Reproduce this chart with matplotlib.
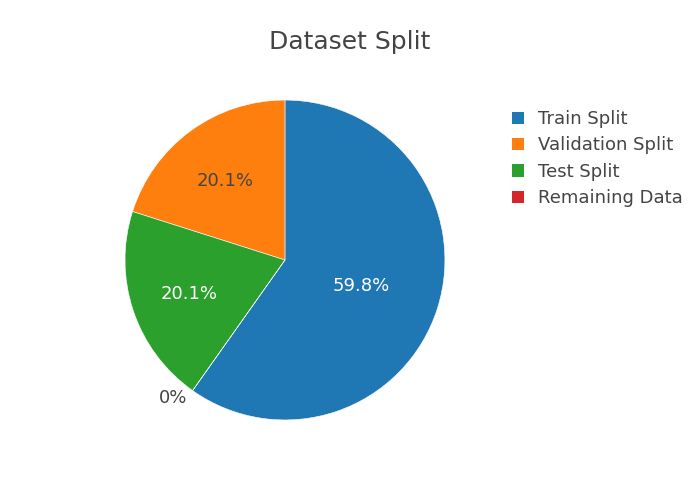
import numpy as np
import matplotlib.pyplot as plt
from matplotlib.patches import Patch

# data
labels = ['Train Split', 'Validation Split', 'Test Split', 'Remaining Data']
values = [59.8, 20.1, 20.1, 0.0]
colors = ['#1f77b4', '#ff7f0e', '#2ca02c', '#d62728']
pct_text_colors = ['white', '#444444', 'white', '#444444']

plt.rcParams['font.family'] = ['DejaVu Sans']

fig = plt.figure(figsize=(7, 5), dpi=100)
ax = fig.add_axes([0.1786, 0.16, 0.457, 0.64])

total = sum(values)
# first slice ends at 12 o'clock, slices run counter-clockwise after it
start = 90 - 360 * values[0] / total

wedges, _ = ax.pie(values, colors=colors, startangle=start, counterclock=True,
                   radius=1.0, wedgeprops=dict(linewidth=0.4, edgecolor='white'))

# percent labels placed at each wedge's mid angle
for i, w in enumerate(wedges):
    pct = 100 * values[i] / total
    txt = '%.1f%%' % pct if pct > 0 else '0%'
    mid = np.deg2rad((w.theta1 + w.theta2) / 2)
    if pct == 0:
        # empty slice: label sits just outside the rim
        ax.text(1.06 * np.cos(mid), 1.06 * np.sin(mid), txt, ha='right', va='center',
                fontsize=13, color=pct_text_colors[i])
        continue
    r = 0.5 if i == 0 else 0.63
    ax.text(r * np.cos(mid), r * np.sin(mid) - 0.012, txt, ha='center', va='center',
            fontsize=13, color=pct_text_colors[i])

ax.set_xlim(-1, 1)
ax.set_ylim(-1, 1)
ax.set_aspect('equal')
ax.axis('off')

fig.text(0.5, 0.915, 'Dataset Split', ha='center', va='center', fontsize=18, color='#444444')

handles = [Patch(facecolor=c, edgecolor='none') for c in colors]
leg = fig.legend(handles, labels, loc='upper left', bbox_to_anchor=(0.731, 0.780),
                 frameon=False, fontsize=13, handlelength=0.67, handleheight=0.67,
                 handletextpad=0.78, labelspacing=0.47, borderpad=0, borderaxespad=0)
for t in leg.get_texts():
    t.set_color('#444444')

fig.savefig('out.png', dpi=100, facecolor='white')
